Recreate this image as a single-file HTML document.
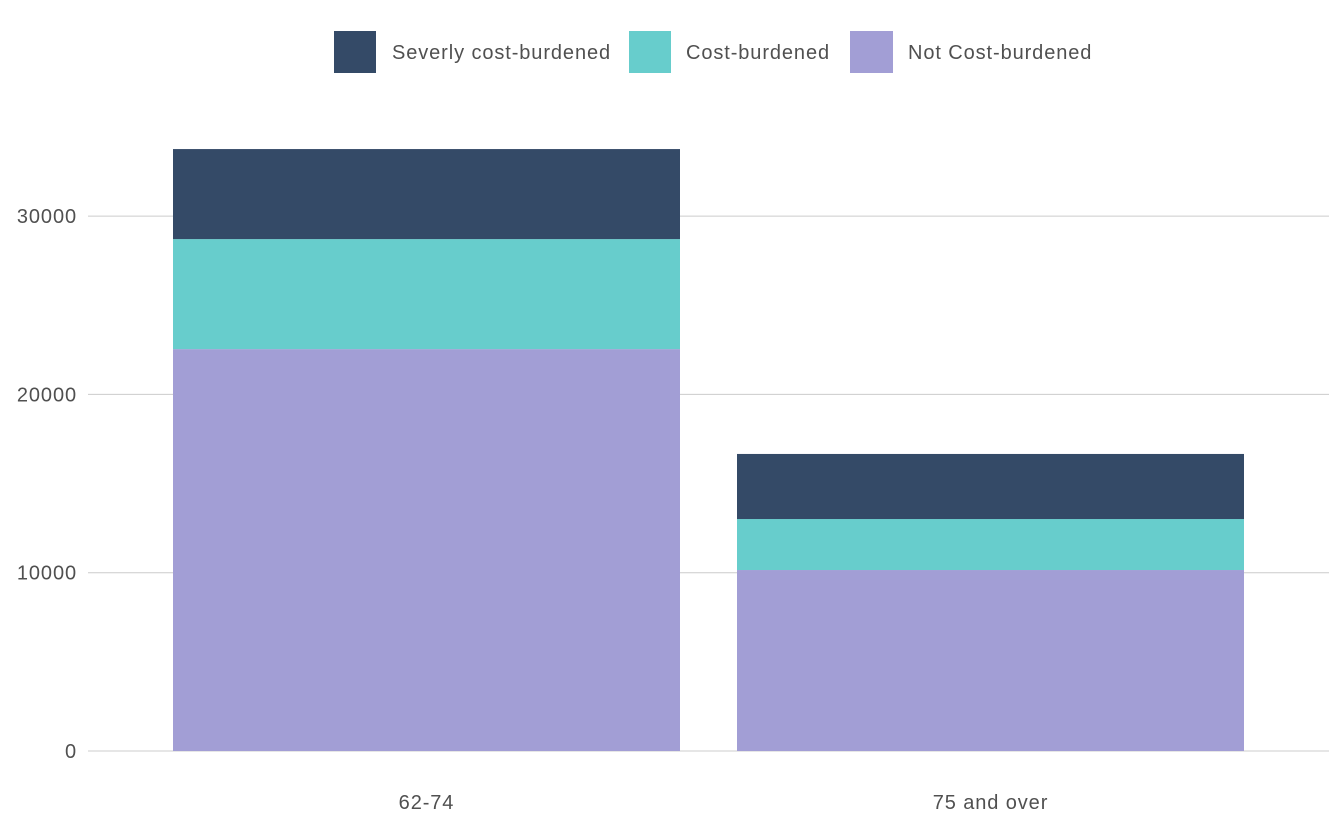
<!DOCTYPE html>
<html><head><meta charset="utf-8"><style>
body{margin:0;background:#fff;font-family:"Liberation Sans",sans-serif;}
svg text{font-family:"Liberation Sans",sans-serif;fill:#505050;letter-spacing:0.9px;}
</style></head><body>
<svg id="chart" width="1344" height="830">
<g id="legend">
<g><rect x="334" y="31" width="42" height="42" fill="#344a67"/><text x="392" y="59" font-size="20">Severly cost-burdened</text></g>
<g><rect x="629" y="31" width="42" height="42" fill="#67cdcc"/><text x="686" y="59" font-size="20">Cost-burdened</text></g>
<g><rect x="850" y="31" width="43" height="42" fill="#a29ed5"/><text x="908" y="59" font-size="20">Not Cost-burdened</text></g>
</g>
<g id="grid"></g>
<g id="bars"></g>
<g id="xaxis"></g>
</svg>
<script>
const categories=["62-74","75 and over"];
const notBurdened=[22540,10150];
const costBurdened=[6170,2860];
const severelyBurdened=[5050,3650];
const yTicks=[0,10000,20000,30000];
const colors=["#a29ed5","#67cdcc","#344a67"];
const names=["not-cost-burdened","cost-burdened","severely-cost-burdened"];
const ns="http://www.w3.org/2000/svg";
const x0=88,x1=1329,y0=751,pxPer=178.3/10000;
const y=v=>y0-v*pxPer;
const band=(x1-x0)/categories.length, bw=507;
const bx=i=>x0+band*i+(i===0?85:band-85-bw);
function el(t,a,p){const e=document.createElementNS(ns,t);for(const k in a)e.setAttribute(k,a[k]);p.appendChild(e);return e;}
const g=document.getElementById('grid');
yTicks.forEach(t=>{
 const l=el('line',{x1:x0,x2:x1,y1:y(t),y2:y(t),stroke:'#cccccc','stroke-width':1},g);
 
 
 const tx=el('text',{x:77,y:y(t)+7,'text-anchor':'end','font-size':20},g);
 tx.textContent=t;
 
 
});
const b=document.getElementById('bars');
const series=[notBurdened,costBurdened,severelyBurdened];
categories.forEach((c,i)=>{
 let acc=0;
 series.forEach((s,k)=>{
  const r=el('rect',{x:bx(i),width:bw,y:y(acc+s[i]),height:s[i]*pxPer,fill:colors[k]},b);
  
  
  acc+=s[i];
 });
 const t=el('text',{x:bx(i)+bw/2,y:809,'text-anchor':'middle','font-size':20},document.getElementById('xaxis'));
 t.textContent=c;
 
 
});
</script>
</body></html>
